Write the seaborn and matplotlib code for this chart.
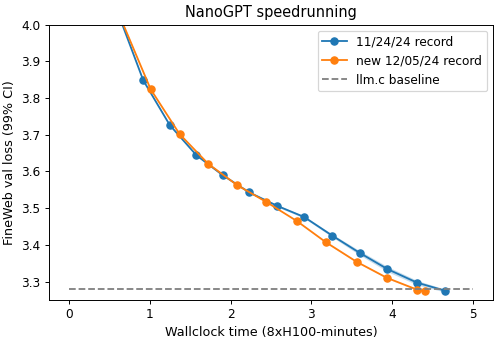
import matplotlib
matplotlib.use("Agg")
import matplotlib.pyplot as plt
import seaborn as sns
import numpy as np
import pandas as pd

# 11/24/24 record
old_x = [0.59, 0.918, 1.247, 1.577, 1.901, 2.23, 2.58, 2.91, 3.26, 3.60, 3.943, 4.31, 4.66]
old_y = [4.04, 3.848, 3.726, 3.644, 3.590, 3.543, 3.506, 3.476, 3.425, 3.378, 3.334, 3.297, 3.275]
old_ci = [0.004, 0.002, 0.002, 0.002, 0.002, 0.002, 0.003, 0.003, 0.004, 0.006, 0.007, 0.006, 0.004]

# new 12/05/24 record
new_x = [0.65, 1.009, 1.367, 1.721, 2.079, 2.441, 2.820, 3.181, 3.560, 3.938, 4.309, 4.407]
new_y = [4.011, 3.824, 3.702, 3.621, 3.563, 3.517, 3.465, 3.407, 3.354, 3.310, 3.278, 3.274]
new_ci = [0.002, 0.001, 0.001, 0.001, 0.001, 0.001, 0.001, 0.002, 0.002, 0.002, 0.002, 0.002]

# llm.c baseline
base_x = [0, 5]
base_y = [3.28, 3.28]

labels = ["11/24/24 record", "new 12/05/24 record", "llm.c baseline"]
blue, orange = "#1f77b4", "#ff7f0e"

fig = plt.figure(figsize=(500 / 87, 342 / 87), dpi=87)
ax = fig.add_subplot(111)
fig.subplots_adjust(left=0.098, right=0.986, bottom=0.123, top=0.928)

df_old = pd.DataFrame({"x": old_x, "y": old_y})
df_new = pd.DataFrame({"x": new_x, "y": new_y})
df_base = pd.DataFrame({"x": base_x, "y": base_y})

sns.lineplot(data=df_old, x="x", y="y", ax=ax, color=blue, marker="o",
             markeredgecolor=blue, markeredgewidth=1, label=labels[0], errorbar=None)
ax.fill_between(old_x, np.array(old_y) - np.array(old_ci), np.array(old_y) + np.array(old_ci),
                color=blue, alpha=0.25, linewidth=0)
sns.lineplot(data=df_new, x="x", y="y", ax=ax, color=orange, marker="o",
             markeredgecolor=orange, markeredgewidth=1, label=labels[1], errorbar=None)
ax.fill_between(new_x, np.array(new_y) - np.array(new_ci), np.array(new_y) + np.array(new_ci),
                color=orange, alpha=0.25, linewidth=0)
sns.lineplot(data=df_base, x="x", y="y", ax=ax, color="gray", linestyle="--",
             label=labels[2], errorbar=None)

ax.set_xlim(-0.25, 5.25)
ax.set_ylim(3.25, 4.0)
ax.set_xlabel("Wallclock time (8xH100-minutes)", fontsize=10.6)
ax.set_ylabel("FineWeb val loss (99% CI)", fontsize=10.6)
ax.set_title("NanoGPT speedrunning", fontsize=12)
ax.legend(loc="upper right")

fig.savefig("out.png", dpi=87)
